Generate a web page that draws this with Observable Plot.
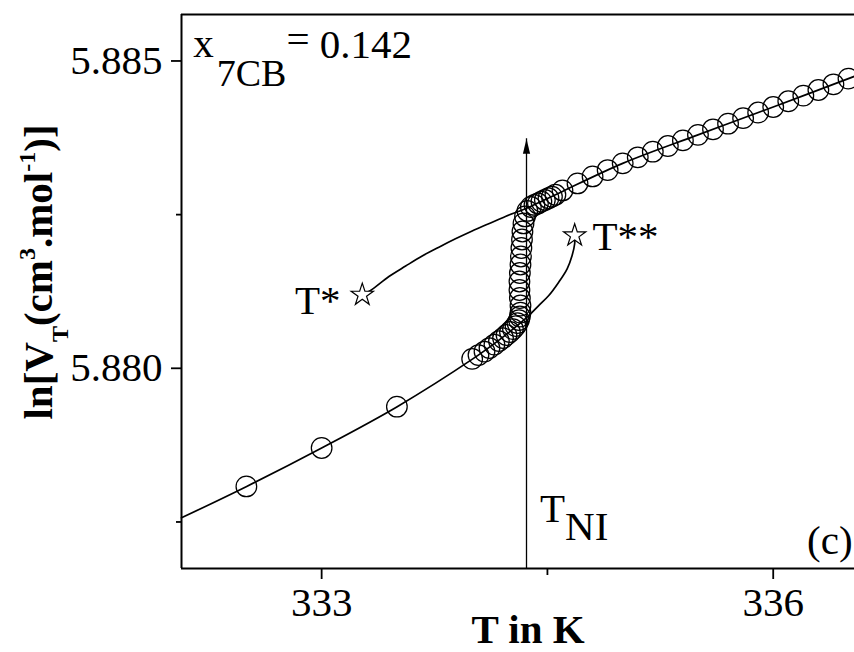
<!DOCTYPE html>
<html><head><meta charset="utf-8">
<script src="https://cdn.jsdelivr.net/npm/d3@7"></script>
<script src="https://cdn.jsdelivr.net/npm/@observablehq/plot@0.6"></script>
<style>body{margin:0;background:#fff}#chart{width:854px;height:652px}</style>
</head><body><div id="chart"></div>
<script>
// ---- data ----
const circleT = [332.5, 333.0, 333.5, 334.0,
  334.042, 334.082, 334.115, 334.148, 334.178, 334.205, 334.228, 334.251, 334.271, 334.288,
  334.301, 334.311, 334.317, 334.321, 334.321, 334.317, 334.314, 334.314, 334.317, 334.321,
  334.324, 334.327, 334.331, 334.334, 334.341, 334.351, 334.367, 334.390, 334.414, 334.437,
  334.460, 334.483, 334.507, 334.530, 334.553,
  334.6, 334.7, 334.8, 334.9, 335.0, 335.1, 335.2, 335.3, 335.4, 335.5,
  335.6, 335.7, 335.8, 335.9, 336.0, 336.1, 336.2, 336.3, 336.4, 336.5];
const circleV = [5.878078, 5.878704, 5.879376, 5.880153,
  5.880215, 5.880272, 5.880329, 5.880386, 5.880443, 5.880492, 5.880541, 5.880590, 5.880638, 5.880687,
  5.880736, 5.880785, 5.880842, 5.880907, 5.881021, 5.881143, 5.881274, 5.881412, 5.881550, 5.881689,
  5.881819, 5.881958, 5.882096, 5.882226, 5.882357, 5.882471, 5.882560, 5.882625, 5.882658, 5.882682,
  5.882712, 5.882739, 5.882767, 5.882793, 5.882824,
  5.882894, 5.883008, 5.883122, 5.883225, 5.883334, 5.883432, 5.883524, 5.883616, 5.883708, 5.883798,
  5.883888, 5.883980, 5.884070, 5.884161, 5.884251, 5.884344, 5.884436, 5.884528, 5.884620, 5.884713];

const nematicFitT = [332.069, 332.502, 333.000, 333.502, 334.004, 334.178, 334.271, 334.376, 334.442,
  334.509, 334.575, 334.631, 334.664, 334.681, 334.681];
const nematicFitV = [5.877568, 5.878078, 5.878704, 5.879376, 5.880153, 5.880459, 5.880638, 5.880858, 5.881021,
  5.881184, 5.881401, 5.881619, 5.881836, 5.882026, 5.882161];

const isoFitT = [333.270, 333.325, 333.447, 333.558, 333.668, 333.779, 333.889, 334.000, 334.110, 334.221,
  334.354, 334.460, 334.600, 335.000, 335.500, 336.000, 336.540];
const isoFitV = [5.881195, 5.881265, 5.881493, 5.881664, 5.881827, 5.881971, 5.882107, 5.882235, 5.882352, 5.882471,
  5.882596, 5.882715, 5.882878, 5.883334, 5.883798, 5.884251, 5.884750];

const starT = [333.270, 334.681];
const starV = [5.881195, 5.882161];
const starLabels = ["T*", "T**"];

const TNI = 334.361;
const arrowTipV = 5.883736;

const xDomain = [332.069, 336.54];
const yDomain = [5.876743, 5.885756];
const xMajor = [333, 336];
const xMinor = [334.5];
const yMajor = [5.880, 5.885];
const yMinor = [5.8775, 5.8825];

// ---- build tables ----
const circles = circleT.map((T, i) => ({T, V: circleV[i]}));
const nematicFit = nematicFitT.map((T, i) => ({T, V: nematicFitV[i]}));
const isoFit = isoFitT.map((T, i) => ({T, V: isoFitV[i]}));
const stars = starT.map((T, i) => ({T, V: starV[i], label: starLabels[i]}));

const FONT = "'Liberation Serif', 'Times New Roman', serif";
const arrowHead = {draw(ctx) { ctx.moveTo(0, 0); ctx.lineTo(-3.6, 15); ctx.lineTo(3.6, 15); ctx.closePath(); }};

const plot = Plot.plot({
  width: 854, height: 652,
  marginTop: 14, marginRight: 0, marginBottom: 84, marginLeft: 181,
  style: {fontFamily: FONT, fontSize: "41px", background: "white", color: "black", overflow: "hidden"},
  x: {domain: xDomain},
  y: {domain: yDomain},
  marks: [
    Plot.axisX({ticks: xMajor, tickSize: 11, tickPadding: 7, tickFormat: d => String(d), label: null, strokeWidth: 1.8}),
    Plot.axisX({ticks: xMinor, tickSize: 7, tickFormat: () => "", label: null, strokeWidth: 1.8}),
    Plot.axisY({ticks: yMajor, tickSize: 10, tickPadding: 9, tickFormat: d3.format(".3f"), label: null, strokeWidth: 1.8}),
    Plot.axisY({ticks: yMinor, tickSize: 5, tickFormat: () => "", label: null, strokeWidth: 1.8}),
    Plot.ruleY([yDomain[0], yDomain[1]], {stroke: "black", strokeWidth: 2}),
    Plot.ruleX([xDomain[0]], {stroke: "black", strokeWidth: 2}),
    Plot.ruleX([{T: TNI, y1: yDomain[0], y2: arrowTipV}], {x: "T", y1: "y1", y2: "y2", stroke: "black", strokeWidth: 1.3}),
    Plot.dot([{T: TNI, V: arrowTipV}], {x: "T", y: "V", symbol: arrowHead, fill: "black", stroke: "none", r: 5}),
    Plot.line(nematicFit, {x: "T", y: "V", curve: "catmull-rom", stroke: "black", strokeWidth: 1.7}),
    Plot.line(isoFit, {x: "T", y: "V", curve: "catmull-rom", stroke: "black", strokeWidth: 1.7}),
    Plot.dot(circles, {x: "T", y: "V", r: 10.3, fill: "none", stroke: "black", strokeWidth: 1.25}),
    Plot.dot(stars, {x: "T", y: "V", symbol: "star", r: 7, fill: "white", stroke: "black", strokeWidth: 1.2}),
    Plot.text([{T: 333.126, V: 5.881103, label: "T*"}], {x: "T", y: "V", text: "label", textAnchor: "end", fill: "black"}),
    Plot.text([{T: 334.799, V: 5.882145, label: "T**"}], {x: "T", y: "V", text: "label", textAnchor: "start", fill: "black"}),
    Plot.text([{T: 336.527, V: 5.877191, label: "(c)"}], {x: "T", y: "V", text: "label", textAnchor: "end", fill: "black"}),
    Plot.text([{T: 334.371, label: "T in K"}], {x: "T", text: "label", frameAnchor: "bottom", dy: 74, fontWeight: "bold", textAnchor: "middle", fill: "black"})
  ]
});

const sx = plot.scale("x"), sy = plot.scale("y");
function rich(x, y, parts, opts = {}) {
  const t = d3.select(plot).append("text")
    .attr("transform", `translate(${x},${y})` + (opts.rotate ? ` rotate(${opts.rotate})` : ""))
    .attr("text-anchor", opts.anchor || "start")
    .attr("font-family", FONT)
    .attr("font-weight", opts.weight || "normal")
    .attr("fill", "black");
  for (const p of parts) {
    t.append("tspan").attr("font-size", p.size).attr("dy", p.dy || 0).attr("dx", p.dx || 0).text(p.t);
  }
}
// composition label
rich(sx.apply(332.150), sy.apply(5.885060), [
  {t: "x", size: 41},
  {t: "7CB", size: 38, dy: 29, dx: 3},
  {t: "=", size: 41, dy: -33},
  {t: " 0.142", size: 41, dy: 5}
]);
// T_NI label
rich(sx.apply(334.454), sy.apply(5.877492), [
  {t: "T", size: 41},
  {t: "NI", size: 41, dy: 18}
]);
// y-axis title
rich(52, (sy.range[0] + sy.range[1]) / 2 - 19, [
  {t: "ln[V", size: 41},
  {t: "T", size: 24, dy: 16},
  {t: "(cm", size: 41, dy: -16},
  {t: "3", size: 24, dy: -17},
  {t: ".mol", size: 41, dy: 17},
  {t: "-1", size: 24, dy: -17},
  {t: ")]", size: 41, dy: 17}
], {rotate: -90, anchor: "middle", weight: "bold"});

document.getElementById("chart").appendChild(plot);
</script>
</body></html>
